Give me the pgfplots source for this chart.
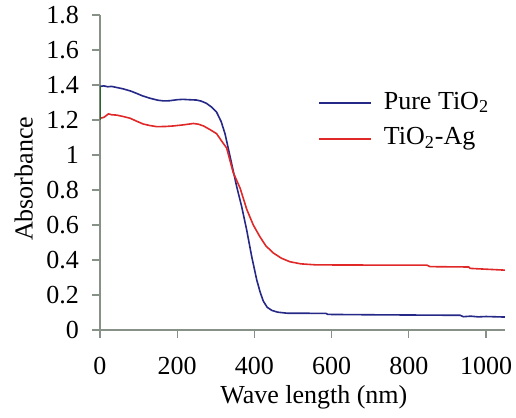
\documentclass[border=0pt]{standalone}
\usepackage{fontspec}
\setmainfont{Liberation Serif}
\usepackage{pgfplots}
\pgfplotsset{compat=1.18}
\definecolor{axisgray}{RGB}{135,145,135}
\definecolor{tiblue}{RGB}{38,40,135}
\definecolor{agred}{RGB}{225,40,40}
\definecolor{startgreen}{RGB}{40,100,40}

\begin{document}
\rmfamily\fontsize{13}{15}\selectfont
\begin{tikzpicture}[font=\rmfamily]
\useasboundingbox (-50pt,-44pt) rectangle (208pt,165pt);
\begin{axis}[
    scale only axis, width=202.5pt, height=157.5pt,
    xmin=0, xmax=1049, ymin=0, ymax=1.8,
    axis lines=left,
    axis line style={-, draw=axisgray, line width=0.6pt},
    tick style={draw=axisgray, line width=0.6pt},
    tick align=outside, major tick length=4pt,
    xtick={0,200,400,600,800,1000},
    ytick={0,0.2,0.4,0.6,0.8,1,1.2,1.4,1.6,1.8},
    /pgf/number format/assume math mode=true,
    /pgf/number format/1000 sep={},
    xticklabel style={anchor=center, yshift=-14pt},
    yticklabel style={anchor=east, xshift=-2pt},
    xlabel={Wave length (nm)},
    ylabel={Absorbance},
    xlabel style={at={(axis description cs:0.528,-0.213)}, anchor=center},
    ylabel style={at={(axis description cs:-0.188,0.48)}, anchor=center},
    legend style={at={(axis description cs:0.538,0.76)}, anchor=north west,
        draw=none, fill=none, inner sep=0pt, row sep=6pt,
        nodes={inner sep=0pt, text height=9pt, text depth=3pt},
        cells={anchor=west}},
    legend image code/.code={\draw[#1] (0pt,0pt) -- (26pt,0pt);},
    legend cell align=left,
]
\addplot[tiblue, line width=0.8pt] coordinates {
(0,1.392)(10,1.395)(20,1.39)(30,1.392)(45,1.385)(60,1.378)(80,1.365)(95,1.352)
(110,1.338)(130,1.324)(150,1.313)(165,1.309)(180,1.31)(200,1.316)(215,1.318)
(230,1.316)(250,1.314)(262,1.308)(276,1.295)(290,1.272)(302,1.245)(314,1.19)
(324,1.12)(337,0.99)(354,0.82)(367,0.705)(380,0.571)(393,0.419)(406,0.286)
(415,0.215)(423,0.165)(433,0.13)(445,0.112)(460,0.102)(484,0.096)(585,0.095)
(590,0.089)(700,0.087)(850,0.085)(933,0.084)(941,0.076)(960,0.079)(980,0.075)
(1000,0.077)(1049,0.074)};
\addlegendentry{\hspace{6pt}Pure TiO\textsubscript{2}}
\addplot[agred, line width=0.8pt] coordinates {
(0,1.21)(10,1.215)(22,1.235)(30,1.23)(43,1.228)(60,1.22)(78,1.21)(95,1.193)
(112,1.177)(130,1.168)(147,1.162)(170,1.163)(190,1.166)(215,1.172)(242,1.18)
(255,1.176)(268,1.166)(285,1.145)(302,1.122)(315,1.08)(328,1.04)(345,0.9)
(363,0.81)(380,0.69)(397,0.6)(415,0.53)(430,0.48)(449,0.44)(470,0.41)
(492,0.39)(520,0.378)(560,0.372)(700,0.371)(846,0.371)(855,0.362)(955,0.36)
(959,0.352)(1049,0.342)};
\addlegendentry{\hspace{6pt}TiO\textsubscript{2}-Ag}
\addplot[startgreen, line width=0.8pt, forget plot] coordinates {(0,1.2)(0,1.392)};
\end{axis}
\end{tikzpicture}
\end{document}
